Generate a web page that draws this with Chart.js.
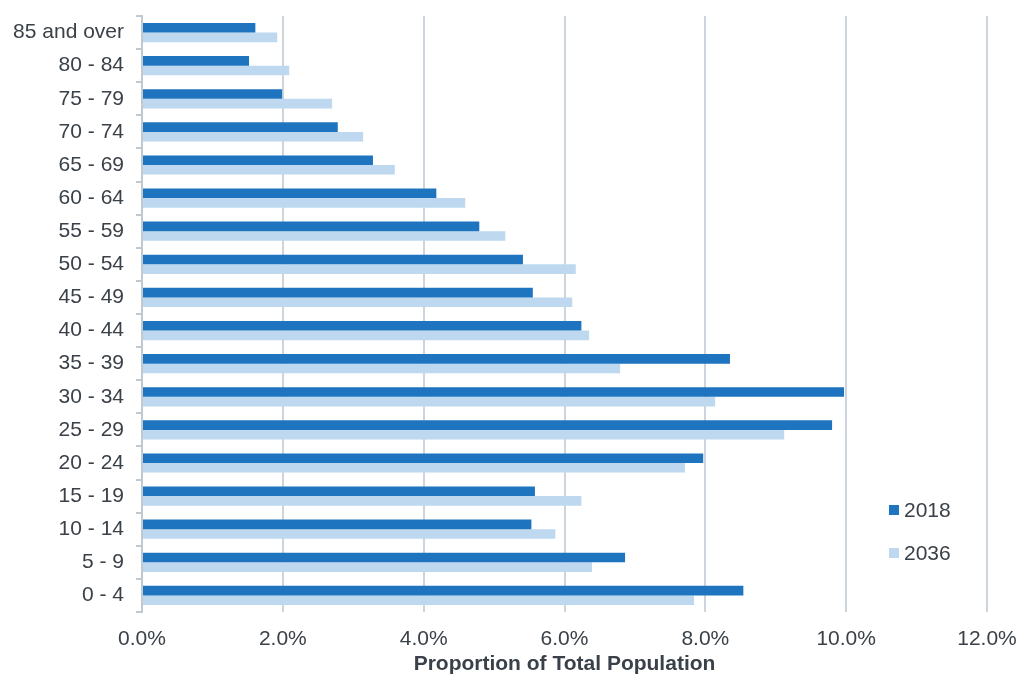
<!DOCTYPE html>
<html>
<head>
<meta charset="utf-8">
<script src="https://cdn.jsdelivr.net/npm/chart.js@4"></script>
<style>
  html, body { margin: 0; padding: 0; background: #fff; }
  #chart { display: block; }
</style>
</head>
<body>
<canvas id="chart" width="1032" height="675"></canvas>
<script>
// Age groups, listed top to bottom as in the chart
const ageGroups = ['85 and over', '80 - 84', '75 - 79', '70 - 74', '65 - 69', '60 - 64',
    '55 - 59', '50 - 54', '45 - 49', '40 - 44', '35 - 39', '30 - 34', '25 - 29',
    '20 - 24', '15 - 19', '10 - 14', '5 - 9', '0 - 4'];

// Proportion of total population, percent
const share2018 = [1.61, 1.52, 1.99, 2.78, 3.28, 4.18, 4.79, 5.41, 5.55, 6.24,
    8.35, 9.97, 9.80, 7.97, 5.58, 5.53, 6.86, 8.54];
const share2036 = [1.92, 2.09, 2.70, 3.14, 3.59, 4.59, 5.16, 6.16, 6.11, 6.35,
    6.79, 8.14, 9.12, 7.71, 6.24, 5.87, 6.39, 7.84];

const xTicks = [0, 2, 4, 6, 8, 10, 12];

const textColor = '#3a4148';
const gridColor = '#cdd4db';
const fontFamily = '"Liberation Sans", Arial, sans-serif';

// Legend drawn inside the plot, lower right
const insideLegend = {
    id: 'insideLegend',
    afterDraw(chart) {
        const ctx = chart.ctx;
        ctx.save();
        ctx.font = '21px ' + fontFamily;
        ctx.textBaseline = 'middle';
        chart.data.datasets.forEach((ds, i) => {
            const y = 510 + i * 43;
            ctx.fillStyle = ds.backgroundColor;
            ctx.fillRect(889, y - 5, 10, 10);
            ctx.fillStyle = textColor;
            ctx.fillText(ds.label, 904, y + 1);
        });
        ctx.restore();
    }
};

new Chart(document.getElementById('chart').getContext('2d'), {
    type: 'bar',
    data: {
        labels: ageGroups,
        datasets: [{
            label: '2018',
            data: share2018,
            backgroundColor: '#1f74bf',
            categoryPercentage: 0.58,
            barPercentage: 1.0
        }, {
            label: '2036',
            data: share2036,
            backgroundColor: '#bdd8ef',
            categoryPercentage: 0.58,
            barPercentage: 1.0
        }]
    },
    options: {
        indexAxis: 'y',
        responsive: false,
        animation: false,
        layout: { padding: { top: 16, right: 45, left: 0, bottom: 0 } },
        plugins: {
            legend: { display: false },
            tooltip: { enabled: false }
        },
        scales: {
            x: {
                min: 0,
                max: 12,
                afterBuildTicks: (scale) => { scale.ticks = xTicks.map(v => ({ value: v })); },
                afterFit: (scale) => { scale.height = 63; },
                grid: { color: gridColor, lineWidth: 2, drawTicks: false },
                border: { display: false },
                ticks: {
                    color: textColor,
                    padding: 15,
                    font: { family: fontFamily, size: 21 },
                    callback: (v) => Number(v).toFixed(1) + '%'
                },
                title: {
                    display: true,
                    text: 'Proportion of Total Population',
                    color: textColor,
                    padding: { top: 0, bottom: -2 },
                    font: { family: fontFamily, size: 21, weight: 'bold' }
                }
            },
            y: {
                afterFit: (scale) => {
                    scale.width = 142;
                    scale.paddingTop = 0;
                    scale.paddingBottom = 0;
                },
                grid: { drawOnChartArea: false, color: '#c0c8d0', lineWidth: 2, tickLength: 6 },
                border: { display: true, color: '#c0c8d0', width: 2 },
                ticks: {
                    color: textColor,
                    padding: 12,
                    font: { family: fontFamily, size: 21 }
                }
            }
        }
    },
    plugins: [insideLegend]
});
</script>
</body>
</html>
